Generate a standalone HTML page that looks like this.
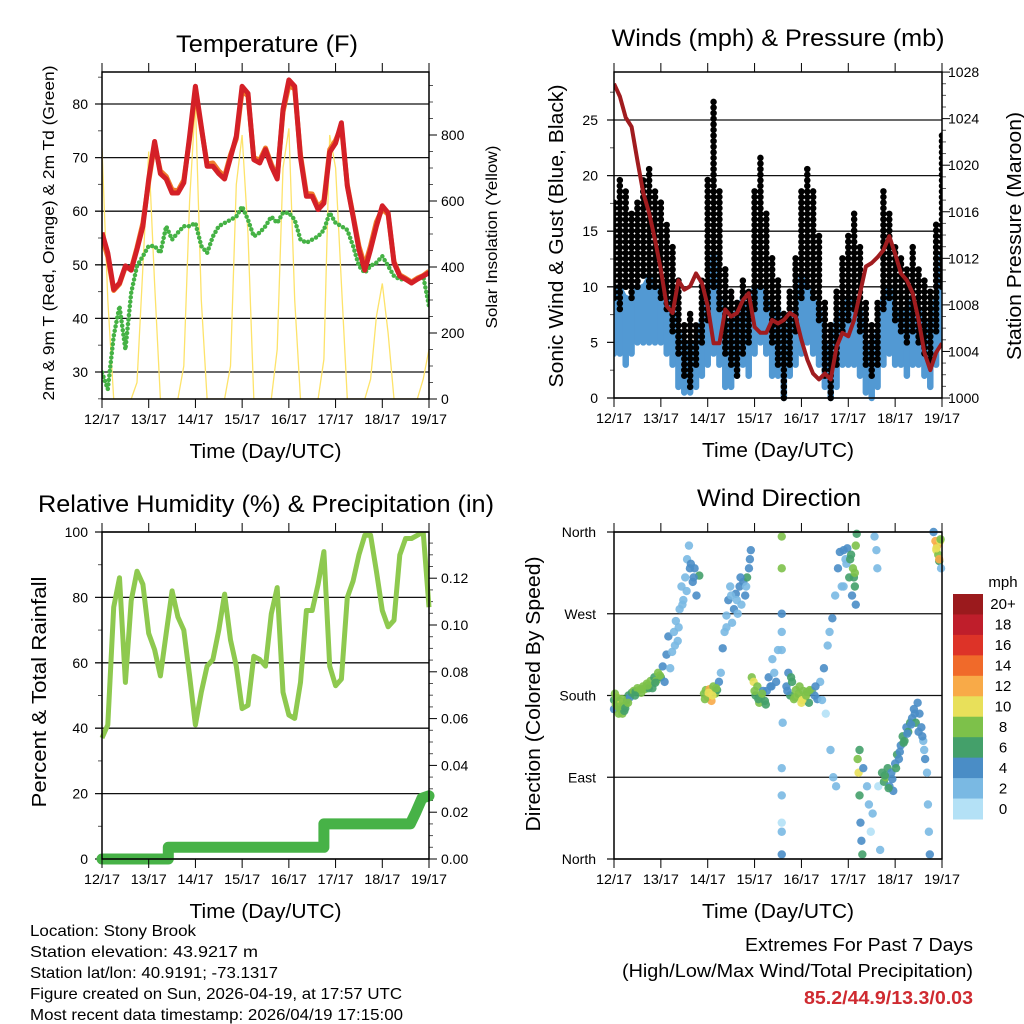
<!DOCTYPE html>
<html><head><meta charset="utf-8"><style>
html,body{margin:0;padding:0;background:#fff}
svg{display:block}
text{font-family:"Liberation Sans",sans-serif;fill:#000}
</style></head><body>
<svg id="root" xmlns="http://www.w3.org/2000/svg" width="1024" height="1024" viewBox="0 0 1024 1024">
<rect x="0" y="0" width="1024" height="1024" fill="#fff"/>
<g id="p1"></g>
<g id="p2"></g>
<g id="p3"></g>
<g id="p4"></g>
<g id="cb"></g>
<g font-size="16">
<text x="30" y="936" textLength="166" lengthAdjust="spacingAndGlyphs">Location: Stony Brook</text>
<text x="30" y="957" textLength="228" lengthAdjust="spacingAndGlyphs">Station elevation: 43.9217 m</text>
<text x="30" y="978" textLength="248" lengthAdjust="spacingAndGlyphs">Station lat/lon: 40.9191; -73.1317</text>
<text x="30" y="999" textLength="372" lengthAdjust="spacingAndGlyphs">Figure created on Sun, 2026-04-19, at 17:57 UTC</text>
<text x="30" y="1020" textLength="373" lengthAdjust="spacingAndGlyphs">Most recent data timestamp: 2026/04/19 17:15:00</text>
</g>
<g font-size="18">
<text x="973" y="951" text-anchor="end" textLength="228" lengthAdjust="spacingAndGlyphs">Extremes For Past 7 Days</text>
<text x="973" y="977" text-anchor="end" textLength="351" lengthAdjust="spacingAndGlyphs">(High/Low/Max Wind/Total Precipitation)</text>
<text x="973" y="1004" text-anchor="end" textLength="169" lengthAdjust="spacingAndGlyphs" font-weight="bold" style="fill:#cf2a30">85.2/44.9/13.3/0.03</text>
</g>
</svg>
<script>
// ---- Temperature panel data (3-hourly, days since 12/17 12 UTC) ----
const t3h = [0,0.125,0.25,0.375,0.5,0.625,0.75,0.875,1,1.125,1.25,1.375,1.5,1.625,1.75,1.875,2,2.125,2.25,2.375,2.5,2.625,2.75,2.875,3,3.125,3.25,3.375,3.5,3.625,3.75,3.875,4,4.125,4.25,4.375,4.5,4.625,4.75,4.875,5,5.125,5.25,5.375,5.5,5.625,5.75,5.875,6,6.125,6.25,6.375,6.5,6.625,6.75,6.875,7];
const temp2m = [56,52.2,45.4,46.6,49.8,49,52.9,57.2,66,73,67,66,63.4,63.4,65.3,74,83.3,75.8,68.4,68.4,67,66,70,74,83.3,82,69.6,69,71.5,68.4,66,79,84.5,83.3,70,62.8,62.8,60.3,61.5,71,72.7,76.5,64.7,59,52.9,49,52.9,57.2,61,59.7,50.4,47.9,47.3,46.6,47.3,47.9,48.5];
const temp9m = [55,51.5,45.2,46.4,49.6,49.2,53.2,57.8,65.5,72.5,67.5,66.5,64,63.8,65.8,73.5,82.5,75.5,68.8,69,67.5,66.5,70.5,73.5,82.5,81.5,70,69.5,71.8,68.8,66.3,78.5,83.5,82.8,70.5,63.3,63.2,60.8,62,71.5,73.2,75.8,64.9,59.2,53.5,49.8,53.6,58,60.4,59.4,50.6,48.1,47.5,46.8,47.5,48,48.8];
const dewpt = [29.9,26.8,36.7,42.3,34.2,44.8,49.8,51.6,53.5,53.5,52.2,57.2,54.7,56,57.2,57.2,57.8,53.5,52.2,55.3,57.2,57.8,58.4,59,60.9,58.4,55.3,56,57.2,59,57.8,59.7,59.7,58.4,54.7,54.1,54.7,55.3,56.5,59.7,57.8,57.2,56.5,53.5,49.8,48.5,49.8,50.4,51.6,49.8,47.9,47.3,47.3,46.6,47.3,47.9,42.3];
const solar = [760,300,0,0,0,0,50,400,750,350,0,0,0,0,100,600,900,300,0,0,0,0,100,650,800,500,0,0,0,0,150,700,820,300,0,0,0,0,120,800,700,350,0,0,0,0,60,250,350,200,0,0,0,0,0,60,150];
// ---- Winds panel data ----
const gustHi = [18,20,19,17,18,20,21,19,18,16,14,11,7,8,7,11,20,27,19,12,10,9,11,10,19,22,17,13,11,8,10,13,19,21,19,15,9,7,10,13,15,17,14,9,7,9,19,17,14,13,12,14,12,11,10,16,24];
const gustLo = [9,8,10,9,10,11,10,10,9,8,6,4,2,1,3,5,7,10,8,4,3,2,4,5,8,10,8,5,3,0,3,6,9,10,9,7,2,0,3,6,7,8,6,3,2,3,8,9,7,6,5,6,5,4,3,6,10];
const windHi = [10,10,9,9,10,10,11,10,10,9,8,6,5,5,5,7,10,13,9,6,7,8,9,7,10,10,9,7,8,5,7,8,11,10,9,8,5,4,7,8,9,9,8,5,4,6,9,10,8,8,8,9,8,7,6,9,13];
const windLo = [4,4,3,4,5,5,5,5,5,4,3,1,0.5,0.5,1,2,3,4,3,1,1,2,3,2,4,5,4,2,2,0,2,3,4,5,4,3,1,0,1,3,3,3,2,0.5,0,1,3,4,3,3,2,3,3,2,1,3,5];
const pressure = [1027,1025.9,1024.1,1023.3,1020.4,1017.6,1015.9,1013.6,1011,1007.9,1007.3,1010.1,1009.3,1009.6,1010.7,1009.9,1007.9,1004.7,1004.7,1007.6,1007,1007.3,1008.4,1009,1006.1,1005.6,1005.6,1006.7,1006.4,1006.7,1007.3,1007,1005,1003.3,1002.1,1001.6,1002.1,1001.6,1004.4,1005.6,1005.3,1006.7,1009,1011.3,1011.6,1012.1,1012.7,1013.9,1012.4,1010.7,1010.1,1009,1006.7,1003.9,1002.4,1003.9,1004.7];
// ---- Humidity / precipitation ----
const rh = [37,41,77,86,54,79,88,84,69,64,56,69,82,74,70,56,41,51,59,61,70,81,67,59,46,47,62,61,59,75,83,51,44,43,54,76,76,84,94,59,53,55,80,85,93,99,99,88,76,71,73,93,98,98,99,100,77];
const precipTimes = [0,1.42,1.42,4.75,4.75,6.6,6.72,6.85,7];
const precipVals = [0,0,0.005,0.005,0.015,0.015,0.02,0.026,0.027];
// ---- Wind direction ----
const dirTimes = [0,0,0.02,0.04,0.06,0.08,0.1,0.12,0.14,0.16,0.18,0.2,0.22,0.25,0.28,0.31,0.34,0.38,0.42,0.46,0.5,0.54,0.58,0.62,0.66,0.7,0.74,0.78,0.82,0.86,0.9,0.94,1,1.04,1.08,1.12,1.16,1.2,1.24,1.28,1.32,1.36,1.4,1.44,1.48,1.52,1.56,1.6,1.64,1.68,1.72,1.76,1.82,
1.92,1.96,2,2.04,2.08,2.12,2.16,2.2,2.24,2.28,2.32,2.36,2.4,2.44,2.48,2.52,2.56,2.6,2.64,2.68,2.72,2.76,2.8,2.84,2.88,2.92,2.94,2.98,3.02,3.06,3.1,3.14,3.18,3.22,3.26,3.3,3.34,3.38,3.42,3.46,3.5,
3.58,3.58,3.58,3.58,3.58,3.58,3.58,3.58,3.58,3.58,3.6,
3.68,3.72,3.76,3.8,3.84,3.88,3.92,3.96,4,4.04,4.08,4.12,4.16,4.22,4.28,4.34,4.4,4.44,4.48,4.52,4.56,4.6,4.62,4.66,4.68,4.72,4.74,4.78,4.82,4.86,4.9,4.94,4.98,5.02,5.06,5.1,5.14,5.16,5.18,5.16,
5.2,5.22,5.24,5.26,5.28,5.3,5.24,5.32,
5.4,5.44,5.48,5.52,5.56,5.6,5.62,5.64,5.68,5.72,5.76,5.8,5.84,5.88,5.92,5.96,6,6.04,6.08,6.12,6.16,6.2,6.24,6.28,6.32,6.36,6.4,6.44,6.48,6.52,6.56,6.6,6.64,6.68,6.7,6.72,6.74,
6.82,6.86,6.88,6.9,6.92,6.94,6.96,6.98,
0.05,0.11,0.17,0.24,0.3,0.45,0.6,0.72,0.88,0.98,1.3,1.38,1.46,1.55,1.62,1.7,
1.94,2.02,2.1,2.18,2.4,2.5,2.62,2.7,2.82,2.9,3.0,3.08,3.16,3.24,3.36,
3.7,3.78,3.86,3.94,4.02,4.1,4.18,4.3,4.9,4.96,5.04,5.12,5.08,5.14,
5.78,5.86,5.94,6.02,6.1,6.18,6.26,6.34,6.42,6.5,6.58,6.62,6.88,6.94,6.97];
const dirDeg = [175,165,182,170,178,168,160,174,165,172,160,168,163,170,175,180,178,183,185,184,188,186,183,190,187,193,188,196,188,200,196,205,200,212,195,225,245,210,228,250,262,240,275,300,285,310,330,345,325,305,320,290,312,
182,186,178,187,174,190,182,186,195,205,232,250,268,285,300,260,275,292,270,300,280,305,290,310,320,340,200,195,180,190,172,178,185,174,185,200,190,220,205,195,230,
355,320,270,250,230,100,70,40,5,30,150,
190,205,180,195,176,186,180,190,172,185,178,184,172,185,180,176,195,175,210,160,235,250,120,265,90,290,80,320,338,300,340,330,342,310,335,320,300,280,358,345,
110,95,70,40,20,5,120,100,
80,60,30,50,355,340,320,80,10,95,85,90,100,80,95,75,105,115,110,125,135,130,145,140,150,155,165,150,172,160,145,130,110,95,60,30,5,
360,350,340,345,335,328,350,320,
178,168,176,166,172,180,187,191,194,202,235,255,280,295,320,310,
176,183,180,188,255,290,285,310,300,330,185,176,182,170,190,
185,200,178,182,175,180,186,190,300,325,330,310,290,315,
92,78,88,100,118,128,138,148,160,140,135,120,342,330,352];
const dirSpeed = [7,4,8,9,10,9,8,9,9,10,8,8,7,8,6,7,5,7,8,7,9,9,8,9,8,9,7,8,7,7,9,8,6,5,4,4,4,3,2,3,2,2,3,2,3,2,3,2,4,5,4,4,6,
8,9,12,13,12,9,8,7,4,3,4,2,3,4,2,3,4,5,3,4,2,4,5,6,5,4,8,10,7,8,9,8,5,7,4,4,5,3,2,4,3,
8,8,4,3,2,2,2,1,4,2,2,
5,4,7,6,8,9,11,8,10,9,11,8,7,8,5,4,3,2,4,1,3,2,2,4,2,3,2,4,4,2,5,3,5,6,7,8,6,5,7,8,
8,10,6,5,4,6,7,4,
2,2,1,2,3,2,2,1,2,6,7,8,6,5,4,5,5,6,4,5,7,6,4,6,7,5,4,6,5,4,4,3,4,3,2,3,4,
4,12,10,13,8,6,11,2,
8,9,8,7,9,6,8,9,7,8,2,3,2,3,4,5,
9,10,11,8,2,3,2,4,3,5,9,7,8,6,5,
5,6,8,9,10,9,8,5,3,3,6,7,5,8,
7,6,5,6,5,6,5,4,5,4,4,3,10,12,9];
const speedLabels = ["0","2","4","6","8","10","12","14","16","18","20+"];
const speedColors = ["#b4e1f6","#7ab9e3","#4a8dc6","#44a06a","#7dc14a","#e8e05a","#f8aa48","#f06a2a","#dd3328","#bf1e2b","#9b1a1d"];
const dayLabels = ["12/17","13/17","14/17","15/17","16/17","17/17","18/17","19/17"];

const NS="http://www.w3.org/2000/svg";
function mk(parent, tag, attrs, txt){
  const e=document.createElementNS(NS,tag);
  for(const k in attrs) e.setAttribute(k,attrs[k]);
  if(txt!==undefined) e.textContent=txt;
  parent.appendChild(e); return e;
}
function axesFrame(g, x0, x1, y0, y1){
  const dx=(x1-x0)/7;
  for(let i=0;i<8;i++){
    const x=x0+i*dx;
    const tk=mk(g,'line',{x1:x,x2:x,y1:y0-9,y2:y0,stroke:'#000','stroke-width':1});
    
    
    const tb=mk(g,'line',{x1:x,x2:x,y1:y1,y2:y1+9,stroke:'#000','stroke-width':1});
    
    
    const lb=mk(g,'text',{x:x,y:y1+25,'text-anchor':'middle','font-size':14,textLength:36,lengthAdjust:'spacingAndGlyphs'},dayLabels[i]);
    
    
  }
  const fr=mk(g,'rect',{x:x0,y:y0,width:x1-x0,height:y1-y0,fill:'none',stroke:'#000','stroke-width':1.5});
  
  
  const xt=mk(g,'text',{x:(x0+x1)/2,y:y1+59,'text-anchor':'middle','font-size':20,textLength:152,lengthAdjust:'spacingAndGlyphs'},'Time (Day/UTC)');
  
  
}
function leftTicks(g, x0, x1, vals, yf, labels, minor, grid, lx){
  minor.forEach(v=>{ const l=mk(g,'line',{x1:x0-4,x2:x0,y1:yf(v),y2:yf(v),stroke:'#555','stroke-width':1});
      });
  vals.forEach((v,i)=>{
    const y=yf(v);
    if(grid){ const gl=mk(g,'line',{x1:x0-7,x2:x1,y1:y,y2:y,stroke:'#111','stroke-width':1.3});
        }
    const t=mk(g,'text',{x:lx,y:y+5,'text-anchor':'end','font-size':14},labels[i]);
    
    
  });
}
function rightTicks(g, x1, vals, yf, labels, minor, lx){
  minor.forEach(v=>{ const l=mk(g,'line',{x1:x1,x2:x1+4,y1:yf(v),y2:yf(v),stroke:'#555','stroke-width':1});
      });
  vals.forEach((v,i)=>{
    const y=yf(v);
    const l=mk(g,'line',{x1:x1,x2:x1+8,y1:y,y2:y,stroke:'#000','stroke-width':1});
     
    const t=mk(g,'text',{x:lx,y:y+5,'text-anchor':'start','font-size':14},labels[i]);
    
    
  });
}
function vtitle(g,x,y,txt,size,len,name){
  const t=mk(g,'text',{x:0,y:0,transform:`translate(${x},${y}) rotate(-90)`,'text-anchor':'middle','font-size':size,textLength:len,lengthAdjust:'spacingAndGlyphs'},txt);
  
  
}
function title(g,x,y,txt,len){
  const t=mk(g,'text',{x:x,y:y,'text-anchor':'middle','font-size':24,textLength:len,lengthAdjust:'spacingAndGlyphs'},txt);
  
  
}
function pts(xs,ys,xf,yf){ return xs.map((t,i)=>xf(t).toFixed(1)+','+yf(ys[i]).toFixed(1)).join(' '); }

// ===== Panel 1 =====
(function(){
  const g=document.getElementById('p1');
  const x0=102,x1=429,y0=72,y1=399;
  const xf=t=>x0+t*(x1-x0)/7;
  const yT=v=>372-(v-30)*5.36;
  const yS=v=>399-v*0.33;
  title(g,267,52,'Temperature (F)',182);
  leftTicks(g,x0,x1,[30,40,50,60,70,80],yT,['30','40','50','60','70','80'],[25,35,45,55,65,75,85],true,88);
  rightTicks(g,x1,[0,200,400,600,800],yS,['0','200','400','600','800'],[50,100,150,250,300,350,450,500,550,650,700,750,850,900,950],441);
  const cl=mk(g,'clipPath',{id:'c1'}); mk(cl,'rect',{x:x0,y:y0,width:x1-x0,height:y1-y0});
  const d=mk(g,'g',{'clip-path':'url(#c1)'});
  const s=mk(d,'polyline',{points:pts(t3h,solar,xf,yS),fill:'none',stroke:'#fde36a','stroke-width':1.3});
   
  const dp=mk(d,'polyline',{points:pts(t3h,dewpt,xf,yT),fill:'none',stroke:'#45b245','stroke-width':4.5,'stroke-dasharray':'0 4.5','stroke-linecap':'round'});
   
  const o=mk(d,'polyline',{points:pts(t3h,temp9m,xf,yT),fill:'none',stroke:'#f07b2a','stroke-width':5,'stroke-linejoin':'round'});
   
  const r=mk(d,'polyline',{points:pts(t3h,temp2m,xf,yT),fill:'none',stroke:'#d42027','stroke-width':5,'stroke-linejoin':'round'});
   
  axesFrame(g,x0,x1,y0,y1);
  vtitle(g,54,233,'2m & 9m T (Red, Orange) & 2m Td (Green)',16,335,'y-axis-title');
  vtitle(g,497,237,'Solar Insolation (Yellow)',16,183,'y2-axis-title');
})();

// ===== Panel 2 =====
(function(){
  const g=document.getElementById('p2');
  const x0=614,x1=942,y0=72,y1=398;
  const xf=t=>x0+t*(x1-x0)/7;
  const yW=v=>398-v*11.12;
  const yP=v=>398-(v-1000)*11.64;
  title(g,778,46,'Winds (mph) & Pressure (mb)',333);
  leftTicks(g,x0,x1,[0,5,10,15,20,25],yW,['0','5','10','15','20','25'],[2.5,7.5,12.5,17.5,22.5,27.5],true,598);
  rightTicks(g,x1,[1000,1004,1008,1012,1016,1020,1024,1028],yP,['1000','1004','1008','1012','1016','1020','1024','1028'],[1001,1002,1003,1005,1006,1007,1009,1010,1011,1013,1014,1015,1017,1018,1019,1021,1022,1023,1025,1026,1027],948);
  const cl=mk(g,'clipPath',{id:'c2'}); mk(cl,'rect',{x:x0,y:y0-4,width:x1-x0,height:y1-y0+8});
  const d=mk(g,'g',{'clip-path':'url(#c2)'});
  t3h.forEach((t,i)=>{
    const b=mk(d,'line',{x1:xf(t),x2:xf(t),y1:yW(windLo[i]),y2:yW(windHi[i]),stroke:'#5299d3','stroke-width':6.5,'stroke-linecap':'round'});
    
    
  });
  const wl=mk(d,'polyline',{points:pts(t3h,windHi,xf,yW),fill:'none',stroke:'#5299d3','stroke-width':4});
   
  t3h.forEach((t,i)=>{
    const b=mk(d,'line',{x1:xf(t),x2:xf(t),y1:yW(gustLo[i]),y2:yW(gustHi[i]),stroke:'#000','stroke-width':6.5,'stroke-linecap':'round','stroke-dasharray':'0.1 5.5'});
    
    
  });
  const p=mk(d,'polyline',{points:pts(t3h,pressure,xf,yP),fill:'none',stroke:'#a01c1f','stroke-width':4,'stroke-linejoin':'round'});
   
  axesFrame(g,x0,x1,y0,y1);
  vtitle(g,563,236,'Sonic Wind & Gust (Blue, Black)',20,303,'y-axis-title');
  vtitle(g,1021,236,'Station Pressure (Maroon)',20,248,'y2-axis-title');
})();

// ===== Panel 3 =====
(function(){
  const g=document.getElementById('p3');
  const x0=102,x1=429,y0=532,y1=859;
  const xf=t=>x0+t*(x1-x0)/7;
  const yR=v=>859-v*3.27;
  const yQ=v=>859-v*2340;
  title(g,266,512,'Relative Humidity (%) & Precipitation (in)',456);
  leftTicks(g,x0,x1,[0,20,40,60,80,100],yR,['0','20','40','60','80','100'],[10,30,50,70,90],true,88);
  const pm=[];for(let k=1;k<28;k++){ if(k%4) pm.push(k*0.005); }
  rightTicks(g,x1,[0,0.02,0.04,0.06,0.08,0.1,0.12],yQ,['0.00','0.02','0.04','0.06','0.08','0.10','0.12'],pm,441);
  const cl=mk(g,'clipPath',{id:'c3'}); mk(cl,'rect',{x:x0-8,y:y0,width:x1-x0+16,height:y1-y0+8});
  const d=mk(g,'g',{'clip-path':'url(#c3)'});
  const r=mk(d,'polyline',{points:pts(t3h,rh,xf,yR),fill:'none',stroke:'#8ec94f','stroke-width':5,'stroke-linejoin':'round'});
   
  const q=mk(d,'polyline',{points:pts(precipTimes,precipVals,xf,yQ),fill:'none',stroke:'#47b247','stroke-width':11,'stroke-linecap':'round','stroke-linejoin':'round'});
   
  axesFrame(g,x0,x1,y0,y1);
  vtitle(g,46,692,'Percent & Total Rainfall',20,231,'y-axis-title');
})();

// ===== Panel 4 =====
(function(){
  const g=document.getElementById('p4');
  const x0=614,x1=942,y0=532,y1=859;
  const xf=t=>x0+t*(x1-x0)/7;
  const yD=v=>859-v*(327/360);
  title(g,779,506,'Wind Direction',164);
  leftTicks(g,x0,x1,[0,90,180,270,360],yD,['North','East','South','West','North'],[],true,596);
  const d=mk(g,'g',{});
  dirTimes.forEach((t,i)=>{
    const bin=Math.min(10,Math.floor(dirSpeed[i]/2));
    const c=mk(d,'circle',{cx:xf(t),cy:yD(dirDeg[i]),r:4.2,fill:speedColors[bin],'fill-opacity':0.9});
    
    
  });
  axesFrame(g,x0,x1,y0,y1);
  vtitle(g,540,694,'Direction (Colored By Speed)',20,275,'y-axis-title');
})();

// ===== Colorbar =====
(function(){
  const g=document.getElementById('cb');
  const bx=953,bw=30,top=594,h=225/11;
  const u=mk(g,'text',{x:1003,y:587,'text-anchor':'middle','font-size':15},'mph');
  
  
  speedColors.forEach((c,i)=>{
    const idx=10-i;
    const y=top+i*h;
    const r=mk(g,'rect',{x:bx,y:y,width:bw,height:h+0.5,fill:speedColors[idx]});
    
    
    const t=mk(g,'text',{x:1003,y:y+h/2+5,'text-anchor':'middle','font-size':15},speedLabels[idx]);
    
    
  });
})();
</script>
</body></html>
